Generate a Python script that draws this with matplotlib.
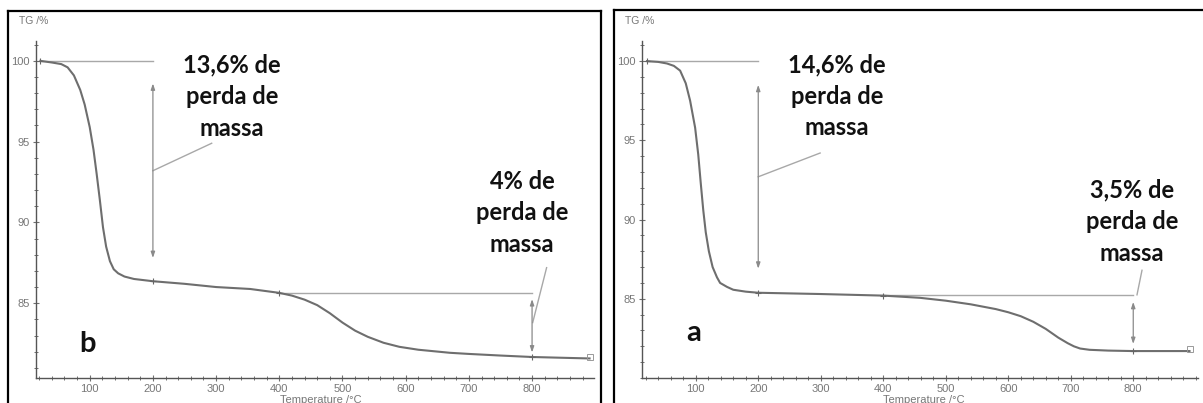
import matplotlib
matplotlib.use("Agg")
import matplotlib.pyplot as plt
from matplotlib.lines import Line2D
from matplotlib.ticker import MultipleLocator

# sample b (left panel)
temp_b = [22, 40, 55, 65, 75, 85, 92, 100, 106, 111, 116, 121, 126, 132, 138, 145, 155, 170,
          200, 250, 300, 354, 400, 420, 440, 460, 480, 500, 520, 540, 565, 590, 620, 670, 700, 750, 800, 850, 891]
tg_b = [100.0, 99.9, 99.8, 99.6, 99.1, 98.2, 97.3, 95.9, 94.5, 93.0, 91.4, 89.7, 88.5, 87.6, 87.1, 86.85, 86.65, 86.5,
        86.36, 86.2, 86.0, 85.88, 85.64, 85.47, 85.22, 84.88, 84.38, 83.8, 83.3, 82.92, 82.55, 82.3, 82.12, 81.93, 81.86, 81.76, 81.67, 81.62, 81.58]

# sample a (right panel)
temp_a = [22, 40, 54, 65, 75, 84, 91, 99, 104, 108, 112, 116, 121, 127, 134, 139, 150, 160, 180,
          200, 300, 400, 459, 500, 540, 580, 600, 620, 640, 660, 680, 695, 705, 715, 730, 760, 800, 850, 890]
tg_a = [100.0, 99.95, 99.85, 99.7, 99.4, 98.6, 97.5, 95.8, 94.1, 92.3, 90.6, 89.2, 88.0, 87.0, 86.35, 86.0, 85.75, 85.57, 85.45,
        85.38, 85.3, 85.2, 85.06, 84.88, 84.65, 84.35, 84.15, 83.9, 83.55, 83.1, 82.55, 82.2, 82.0, 81.86, 81.78, 81.73, 81.7, 81.7, 81.7]

labels_b = ["13,6% de\nperda de\nmassa", "4% de\nperda de\nmassa", "b"]
labels_a = ["14,6% de\nperda de\nmassa", "3,5% de\nperda de\nmassa", "a"]

W, H = 1203, 403
fig = plt.figure(figsize=(W / 100, H / 100), dpi=100)
fig.patch.set_facecolor("white")

curve_col = "#6e6e6e"
ref_col = "#a8a8a8"
tick_col = "#707070"
big_font = "Lato"


def px_axes(left, right, top, bottom):
    return fig.add_axes([left / W, 1 - bottom / H, (right - left) / W, (bottom - top) / H])


def style(ax):
    for s in ["top", "right"]:
        ax.spines[s].set_visible(False)
    for s in ["left", "bottom"]:
        ax.spines[s].set_color("#555555")
        ax.spines[s].set_linewidth(1.0)
    ax.xaxis.set_minor_locator(MultipleLocator(20))
    ax.yaxis.set_minor_locator(MultipleLocator(1))
    ax.set_xticks([100, 200, 300, 400, 500, 600, 700, 800])
    ax.set_yticks([85, 90, 95, 100])
    ax.set_yticklabels(["85", "90", "95", "100"], family="Liberation Sans")
    ax.set_xticklabels([str(v) for v in range(100, 900, 100)], family="Liberation Sans")
    ax.tick_params(which="both", direction="inout", colors=tick_col, labelsize=8,
                   labelcolor="#777777")
    ax.tick_params(which="major", length=5, width=0.8, pad=2)
    ax.tick_params(which="minor", length=3, width=0.7)


def arrow(ax, x, y0, y1):
    ax.annotate("", xy=(x, y1), xytext=(x, y0),
                arrowprops=dict(arrowstyle="<|-|>,head_length=0.35,head_width=0.12",
                                color="#8a8a8a", lw=0.9, shrinkA=0, shrinkB=0))


def panel(ax, temp, tg, labels, xlim, ylim, step_y, top_arrow, bot_arrow,
          top_ptr, bot_ptr, top_txt, bot_txt, letter_pos):
    ax.set_xlim(*xlim)
    ax.set_ylim(*ylim)
    style(ax)
    # reference lines
    ax.plot([temp[0], 200], [100, 100], color=ref_col, lw=1.0)
    ax.plot([400, 800], [step_y, step_y], color=ref_col, lw=1.0)
    # curve
    ax.plot(temp, tg, color=curve_col, lw=1.5, solid_joinstyle="round")
    # markers on the curve
    mk_t = [temp[0], 200, 400, 800]
    mk_y = [tg[0], tg[temp.index(200)], tg[temp.index(400)], tg[temp.index(800)]]
    ax.plot(mk_t, mk_y, "+", color="#666666", ms=5, mew=0.8)
    ax.plot(temp[-1], tg[-1] + 0.12, "s", mfc="none", mec="#999999", ms=4, mew=0.7)
    # arrows
    arrow(ax, 200, *top_arrow)
    arrow(ax, 800, *bot_arrow)
    # pointer lines
    ax.plot(top_ptr[0], top_ptr[1], color=ref_col, lw=1.0)
    ax.plot(bot_ptr[0], bot_ptr[1], color=ref_col, lw=1.0)
    # big labels
    ax.text(top_txt[0], top_txt[1], labels[0], ha="center", va="center", fontsize=17,
            fontweight="bold", family=big_font, linespacing=1.45, color="#111111")
    ax.text(bot_txt[0], bot_txt[1], labels[1], ha="center", va="center", fontsize=17,
            fontweight="bold", family=big_font, linespacing=1.45, color="#111111")
    ax.text(letter_pos[0], letter_pos[1], labels[2], ha="center", va="center", fontsize=21,
            fontweight="bold", family=big_font, color="#111111")
    ax.text(-0.03, 1.06, "TG /%", transform=ax.transAxes, fontsize=7.5, color="#777777",
            family="Liberation Sans", ha="left", va="center")
    ax.annotate("Temperature /°C", xy=(465, 0), xycoords=("data", "axes fraction"),
                xytext=(0, -12.5), textcoords="offset points", ha="center", va="top",
                fontsize=8, color="#777777", family="Liberation Sans", annotation_clip=False)


ax_b = px_axes(36, 594, 41, 378)
panel(ax_b, temp_b, tg_b, labels_b, (15, 898), (80.37, 101.23), 85.64,
      (98.6, 87.8), (85.25, 81.95),
      ([293, 200], [94.9, 93.2]), ([823, 801], [87.2, 83.8]),
      (325, 97.78), (784, 90.6), (97, 82.5))

ax_a = px_axes(642, 1198, 41, 378)
panel(ax_a, temp_a, tg_a, labels_a, (14, 903.6), (80.0, 101.27), 85.25,
      (98.5, 86.9), (84.8, 82.15),
      ([299, 200], [94.2, 92.7]), ([814, 806], [86.8, 85.25]),
      (326, 97.78), (798, 89.87), (96, 82.85))


# panel frames (figure pixel coordinates)
def fig_line(xs, ys):
    fig.add_artist(Line2D([x / W for x in xs], [1 - y / H for y in ys],
                          color="black", lw=1.6, transform=fig.transFigure))


fig_line([8, 601], [11, 11])
fig_line([8, 8], [11, 405])
fig_line([601, 601], [11, 405])
fig_line([614, 1205], [10, 10])
fig_line([614, 614], [10, 405])

fig.savefig("out.png", dpi=100)
